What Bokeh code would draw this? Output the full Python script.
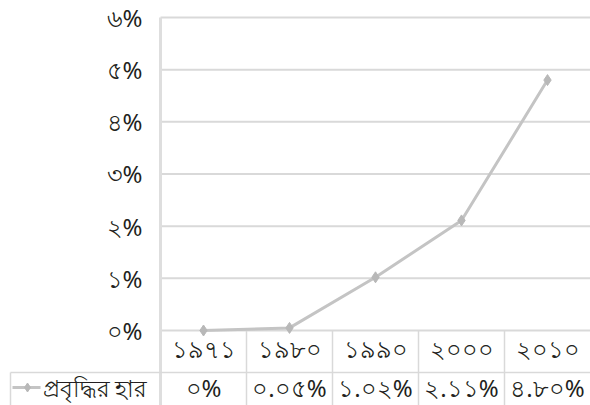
from bokeh.plotting import figure
from bokeh.models import Range1d, ColumnDataSource
from bokeh.core.properties import value
from bokeh.embed import file_html
from bokeh.resources import INLINE

# ---- data ----
years = ["১৯৭১", "১৯৮০", "১৯৯০", "২০০০", "২০১০"]
growth = [0.0, 0.05, 1.02, 2.11, 4.80]
growth_labels = ["০%", "০.০৫%", "১.০২%", "২.১১%", "৪.৮০%"]
y_ticks = [0, 1, 2, 3, 4, 5, 6]
y_tick_labels = ["০%", "১%", "২%", "৩%", "৪%", "৫%", "৬%"]
series_name = "প্রবৃদ্ধির হার"

# ---- layout ----
W, H = 590, 405
col_px = 86.0
unit_px = 52.17
x_end = len(years) - 0.5
x_start = x_end - W / col_px
y_start = -(405 - 330) / unit_px
y_end = 330 / unit_px

FONT = value("Noto Sans")
GRID = "#d9d9d9"
TXT = "#231f20"
FS = "24px"

p = figure(width=W, height=H, output_backend="svg", toolbar_location=None,
           x_range=Range1d(x_start, x_end), y_range=Range1d(y_start, y_end),
           min_border=0, min_border_left=0, min_border_right=0,
           min_border_top=0, min_border_bottom=0)
p.axis.visible = False
p.grid.visible = False
p.outline_line_color = None
p.background_fill_color = "white"
p.border_fill_color = "white"

xi = list(range(len(years)))
px = lambda s: s / col_px  # screen px to x data units
py = lambda s: s / unit_px  # screen px to y data units

# horizontal gridlines
p.segment(x0=[-0.5] * len(y_ticks), x1=[x_end] * len(y_ticks), y0=y_ticks, y1=y_ticks,
          line_color=GRID, line_width=2)
# left border of plot
p.segment(x0=[-0.5], x1=[-0.5], y0=[max(y_ticks)], y1=[y_start],
          line_color="#dedede", line_width=3)
# column dividers in table
p.segment(x0=[i + 0.5 for i in xi[:-1]], x1=[i + 0.5 for i in xi[:-1]],
          y0=[0] * (len(xi) - 1), y1=[y_start] * (len(xi) - 1),
          line_color=GRID, line_width=1.5)
# row divider
row2_top = -py(42)
table_left = x_start + px(10)
p.segment(x0=[table_left], x1=[x_end], y0=[row2_top], y1=[row2_top],
          line_color=GRID, line_width=1.5)
p.segment(x0=[table_left], x1=[table_left], y0=[row2_top], y1=[y_start],
          line_color=GRID, line_width=1.5)

# y tick labels
p.text(x=[-0.5 - px(18)] * len(y_ticks), y=y_ticks, text=y_tick_labels,
       text_font=FONT, text_font_size=FS, text_color=TXT,
       text_align="right", text_baseline="middle")

# data line
src = ColumnDataSource(dict(x=xi, y=growth))
p.line("x", "y", source=src, line_color="#c4c4c4", line_width=3)
p.scatter("x", "y", source=src, marker="diamond", size=11,
          fill_color="#b8b8b8", line_color="#b8b8b8")

# table row 1: years
p.text(x=xi, y=[-py(18)] * len(xi), text=years, text_font=FONT,
       text_font_size=FS, text_color=TXT, text_align="center",
       text_baseline="middle")
# table row 2: values
p.text(x=xi, y=[-py(57)] * len(xi), text=growth_labels, text_font=FONT,
       text_font_size=FS, text_color=TXT, text_align="center",
       text_baseline="middle")

# legend key in table
ly = -py(57)
p.line(x=[x_start + px(12), x_start + px(40)], y=[ly, ly],
       line_color="#c4c4c4", line_width=3)
p.scatter(x=[x_start + px(27)], y=[ly], marker="diamond", size=9,
          fill_color="#b8b8b8", line_color="#b8b8b8")
p.text(x=[x_start + px(42)], y=[ly], text=[series_name], text_font=FONT,
       text_font_size="23px", text_color=TXT, text_align="left",
       text_baseline="middle")

open("out.html", "w").write(file_html(p, INLINE))
